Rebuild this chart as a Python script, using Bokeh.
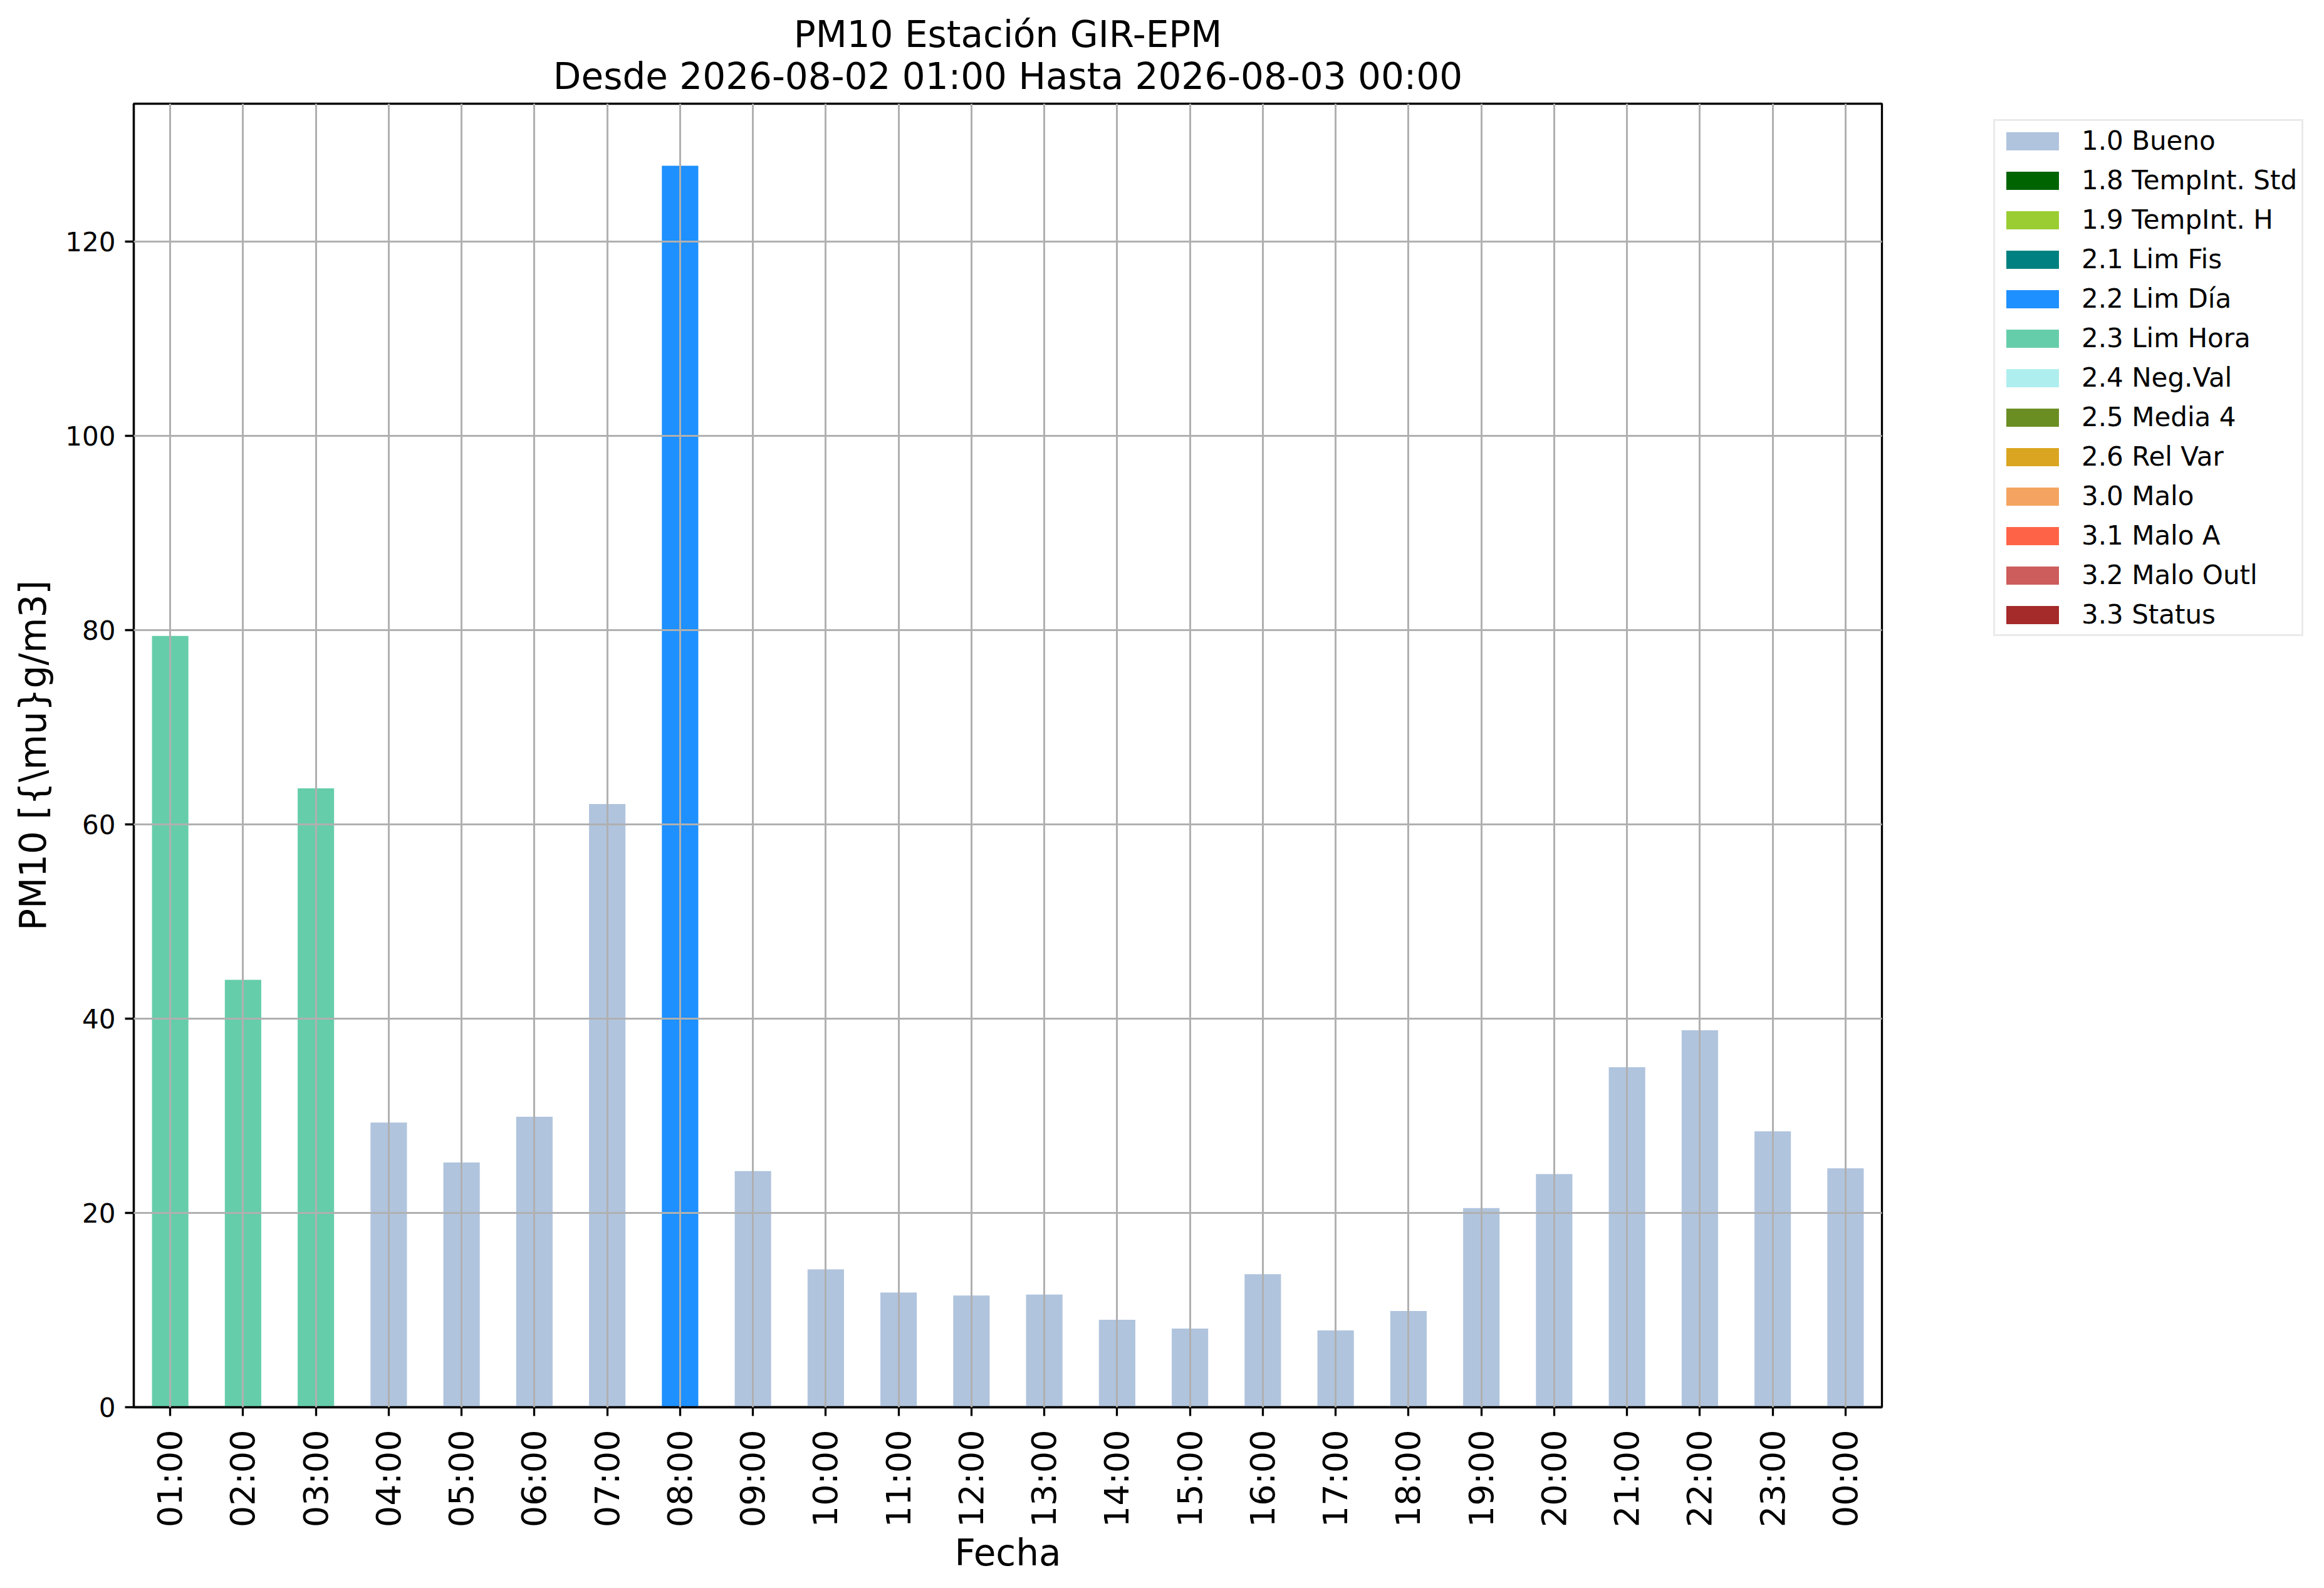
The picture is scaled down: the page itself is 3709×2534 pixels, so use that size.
import math
from bokeh.plotting import figure
from bokeh.layouts import row
from bokeh.models import Range1d, FixedTicker, Legend, LegendItem, Title
from bokeh.embed import file_html
from bokeh.resources import INLINE

# ---------------- data ----------------
hours = ["01:00", "02:00", "03:00", "04:00", "05:00", "06:00", "07:00", "08:00",
         "09:00", "10:00", "11:00", "12:00", "13:00", "14:00", "15:00", "16:00",
         "17:00", "18:00", "19:00", "20:00", "21:00", "22:00", "23:00", "00:00"]
values = [79.4, 44.0, 63.7, 29.3, 25.2, 29.9, 62.1, 127.8,
          24.3, 14.2, 11.8, 11.5, 11.6, 9.0, 8.1, 13.7,
          7.9, 9.9, 20.5, 24.0, 35.0, 38.8, 28.4, 24.6]
flags = (["2.3 Lim Hora"] * 3 + ["1.0 Bueno"] * 4 + ["2.2 Lim Día"]
         + ["1.0 Bueno"] * 16)

categories = ["1.0 Bueno", "1.8 TempInt. Std", "1.9 TempInt. H", "2.1 Lim Fis",
              "2.2 Lim Día", "2.3 Lim Hora", "2.4 Neg.Val", "2.5 Media 4",
              "2.6 Rel Var", "3.0 Malo", "3.1 Malo A", "3.2 Malo Outl", "3.3 Status"]
cat_colors = ["#B0C4DE", "#006400", "#9ACD32", "#008080", "#1E90FF", "#66CDAA",
              "#AFEEEE", "#6B8E23", "#DAA520", "#F4A460", "#FF6347", "#CD5C5C",
              "#A52A2A"]
y_ticks = [0, 20, 40, 60, 80, 100, 120]

title1 = "PM10 Estación GIR-EPM"
title2 = "Desde 2026-08-02 01:00 Hasta 2026-08-03 00:00"
xlabel = "Fecha"
ylabel = "PM10 [{\\mu}g/m3]"

FONT = "DejaVu Sans"

# ---------------- layout ----------------
H = 2515
MAIN_W = 3010
LEG_W = 680
left, right, top, bottom = 213, 7, 165, 269
frame_h = H - top - bottom

y_max = max(values) * 1.05
x_idx = list(range(len(hours)))

p = figure(width=MAIN_W, height=H, output_backend="svg", toolbar_location=None,
           x_range=Range1d(-0.5, len(hours) - 0.5), y_range=Range1d(0, y_max),
           min_border_left=left, min_border_right=right,
           min_border_top=top, min_border_bottom=bottom,
           background_fill_color="white", border_fill_color="white")

p.outline_line_color = "black"
p.outline_line_width = 3.3

# bars, one renderer per category
for cat, col in zip(categories, cat_colors):
    xs = [i for i, f in zip(x_idx, flags) if f == cat]
    ys = [v for v, f in zip(values, flags) if f == cat]
    if xs:
        p.vbar(x=xs, top=ys, bottom=0, width=0.5, fill_color=col, line_color=None)

# grid on top of bars
for g in (p.xgrid, p.ygrid):
    g.grid_line_color = "#b0b0b0"
    g.grid_line_width = 3
    g.level = "annotation"
p.xgrid.ticker = FixedTicker(ticks=x_idx)
p.ygrid.ticker = FixedTicker(ticks=y_ticks)

# axes
p.xaxis.ticker = FixedTicker(ticks=x_idx)
p.xaxis.major_label_overrides = {i: h for i, h in zip(x_idx, hours)}
p.xaxis.major_label_orientation = math.pi / 2
p.xaxis.major_label_text_font_size = "54px"
p.xaxis.major_label_standoff = 22
p.yaxis.ticker = FixedTicker(ticks=y_ticks)
p.yaxis.major_label_text_font_size = "42px"
p.yaxis.major_label_standoff = 15
for ax in (p.xaxis, p.yaxis):
    ax.axis_line_color = "black"
    ax.axis_line_width = 3.3
    ax.major_tick_line_color = "black"
    ax.major_tick_line_width = 3.3
    ax.major_tick_in = 0
    ax.major_tick_out = 14
    ax.minor_tick_line_color = None
    ax.major_label_text_font = FONT
    ax.major_label_text_color = "black"
    ax.axis_label_text_font = FONT
    ax.axis_label_text_font_size = "58px"
    ax.axis_label_text_font_style = "normal"
    ax.axis_label_text_color = "black"
p.xaxis.axis_label = xlabel
p.yaxis.axis_label = ylabel
p.xaxis.axis_label_standoff = 4
p.yaxis.axis_label_standoff = 14

# title (two lines) above the frame; later-added goes further out
t2 = Title(text=title2, align="center", text_font=FONT, text_font_size="58px",
           text_font_style="normal", text_color="black", standoff=20)
t1 = Title(text=title1, align="center", text_font=FONT, text_font_size="58px",
           text_font_style="normal", text_color="black", standoff=-27)
p.add_layout(t2, "above")
p.add_layout(t1, "above")

# ---------------- legend (separate panel to the right) ----------------
lf = figure(width=LEG_W, height=H, output_backend="svg", toolbar_location=None,
            x_range=Range1d(0, 1), y_range=Range1d(0, 1),
            x_axis_type=None, y_axis_type=None,
            min_border_left=0, min_border_right=0, min_border_top=top,
            min_border_bottom=bottom, background_fill_color="white",
            border_fill_color="white")
lf.outline_line_color = None
items = []
for cat, col in zip(categories, cat_colors):
    # zero-height swatch carrier (invisible), only used to draw the legend key
    r = lf.vbar(x=[0.5], top=[0], bottom=[0], width=0.1, fill_color=col,
                line_color=None)
    items.append(LegendItem(label=cat, renderers=[r]))

leg_h = 829
legend = Legend(items=items, location=(3181 - MAIN_W, frame_h - 22 - leg_h),
                label_text_font=FONT, label_text_font_size="42px",
                label_text_color="black",
                glyph_width=105, glyph_height=36, label_standoff=26,
                spacing=14, padding=7, margin=0,
                border_line_color="#d6d6d6", border_line_width=3,
                background_fill_color="white", background_fill_alpha=1.0)
lf.add_layout(legend, "center")

layout = row(p, lf, spacing=0)
open("out.html", "w").write(file_html(layout, INLINE))
